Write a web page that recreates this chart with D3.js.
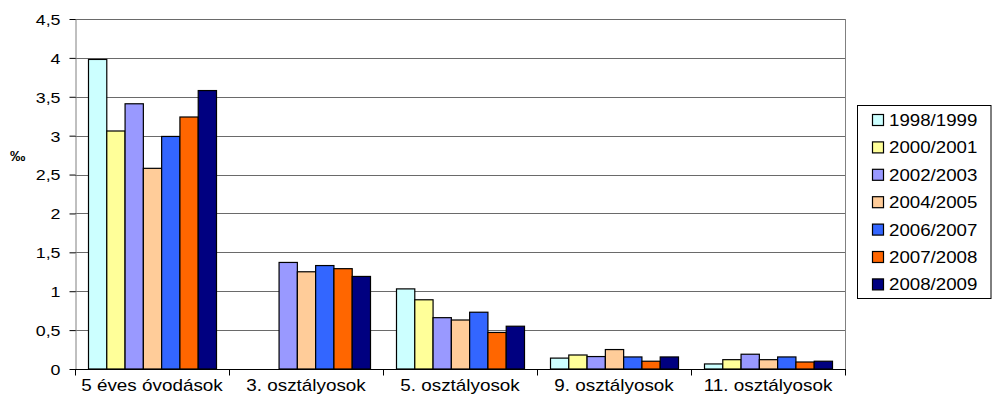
<!DOCTYPE html>
<html><head><meta charset="utf-8">
<script src="https://cdn.jsdelivr.net/npm/d3@7"></script>
<style>
body{margin:0;background:#fff;}
text{font-family:"Liberation Sans",Arial,sans-serif;fill:#000;}
</style></head>
<body><svg id="c" width="992" height="405"></svg>
<script>
const categories = ["5 éves óvodások","3. osztályosok","5. osztályosok","9. osztályosok","11. osztályosok"];
const seriesNames = ["1998/1999","2000/2001","2002/2003","2004/2005","2006/2007","2007/2008","2008/2009"];
const s1998 = [3.98, null, 1.03, 0.14, 0.065];
const s2000 = [3.06, null, 0.89, 0.18, 0.12];
const s2002 = [3.41, 1.37, 0.66, 0.16, 0.19];
const s2004 = [2.58, 1.25, 0.63, 0.25, 0.12];
const s2006 = [2.99, 1.33, 0.73, 0.155, 0.155];
const s2007 = [3.24, 1.29, 0.47, 0.10, 0.09];
const s2008 = [3.58, 1.19, 0.55, 0.155, 0.10];
const yTicks = [0,0.5,1,1.5,2,2.5,3,3.5,4,4.5];
const colors = ["#CCFFFF","#FFFF99","#9999FF","#FFCC99","#3366FF","#FF6600","#000080"];
const seriesValues = [s1998,s2000,s2002,s2004,s2006,s2007,s2008];

const svg = d3.select("#c");
const L=75, R=845, T=19, B=369;
const x0 = d3.scaleBand().domain(categories).range([L,R]).paddingInner(0).paddingOuter(0);
const x1 = d3.scaleBand().domain(seriesNames).range([13, x0.bandwidth()-13]).padding(0);
const y = d3.scaleLinear().domain([0,4.5]).range([B,T]);
const fmt = v => String(v).replace(".", ",");

// gridlines
svg.append("g").selectAll("line").data(yTicks.filter(v=>v>0)).join("line")
  .attr("x1",L).attr("x2",R).attr("y1",d=>Math.round(y(d))+0.5).attr("y2",d=>Math.round(y(d))+0.5)
  .attr("stroke","#6a6a6a").attr("stroke-width",1);
// right border
svg.append("line").attr("x1",R+0.5).attr("x2",R+0.5).attr("y1",T).attr("y2",B).attr("stroke","#808080");

// y axis
const ya = svg.append("g").attr("transform",`translate(${L+0.5},0)`)
  .call(d3.axisLeft(y).tickValues(yTicks).tickFormat(fmt).tickSize(6).tickSizeOuter(0));
ya.select(".domain").attr("stroke","#808080");
ya.selectAll(".tick line").attr("stroke","#000");
ya.selectAll(".tick text").attr("x",0).attr("dy","0.35em")
  .attr("transform","translate(-15,0) scale(1.15,1)")
  .style("font-size","15.5px").style("font-family","Liberation Sans, Arial, sans-serif");

// bars
const groups = svg.append("g").selectAll("g").data(categories).join("g")
  .attr("transform",d=>`translate(${x0(d)},0)`);
groups.selectAll("rect").data((c,ci)=>seriesNames.map((s,si)=>({s,si,v:seriesValues[si][ci]})).filter(d=>d.v!=null))
  .join("rect")
  .attr("x",d=>x1(d.s)+0.5).attr("width",x1.bandwidth())
  .attr("y",d=>y(d.v)).attr("height",d=>B-y(d.v))
  .attr("fill",d=>colors[d.si]).attr("stroke","#000").attr("stroke-width",1.2);

// x axis
const xa = svg.append("g").attr("transform",`translate(0,${B+0.5})`);
xa.append("line").attr("x1",L).attr("x2",R+1).attr("stroke","#000");
const bounds = categories.map(c=>x0(c)).concat([R]);
xa.selectAll(".tk").data(bounds).join("line").attr("class","tk")
  .attr("x1",d=>Math.round(d)+0.5).attr("x2",d=>Math.round(d)+0.5).attr("y1",0).attr("y2",6).attr("stroke","#000");
xa.selectAll("text").data(categories).join("text")
  .attr("text-anchor","middle")
  .attr("transform",d=>`translate(${x0(d)+x0.bandwidth()/2},21.5) scale(1.18,1)`)
  .style("font-size","16px").text(d=>d);

// y label
svg.append("text").attr("transform","translate(10,161) scale(1.1,1)").style("font-size","14px").style("font-weight","bold").text("‰");

// legend
const lg = svg.append("g");
lg.append("rect").attr("x",857.5).attr("y",105.5).attr("width",133.5).attr("height",193).attr("fill","#fff").attr("stroke","#000");
const items = lg.selectAll("g").data(seriesNames).join("g")
  .attr("transform",(d,i)=>`translate(0,${120+i*27.4})`);
items.append("rect").attr("x",872.5).attr("y",-5.5).attr("width",11).attr("height",11)
  .attr("fill",(d,i)=>colors[i]).attr("stroke","#000").attr("stroke-width",1.2);
items.append("text").attr("transform","translate(889,6) scale(1.1,1)").style("font-size","17px").text(d=>d);
</script></body></html>
